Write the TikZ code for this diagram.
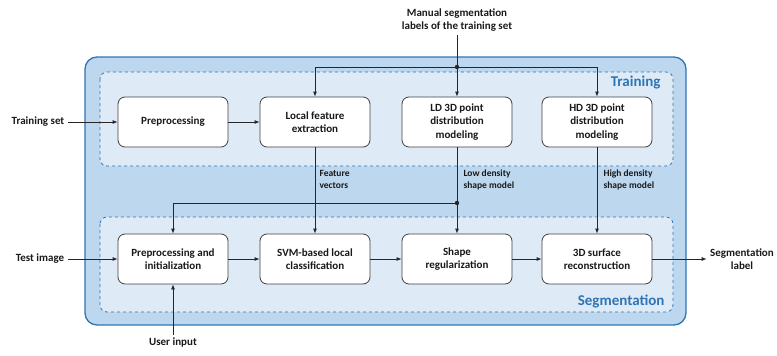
\documentclass[tikz,border=0pt]{standalone}
\usepackage{fontspec}
\setmainfont{Carlito}
\usetikzlibrary{arrows.meta}
\definecolor{outerblue}{HTML}{BDD7EE}
\definecolor{innerblue}{HTML}{DEEBF7}
\definecolor{lineblue}{HTML}{2E75B6}
\tikzset{
  block/.style={draw=black!75, fill=white, rounded corners=7pt, minimum width=110pt, minimum height=50pt, align=center, line width=0.8pt, text=black!90, font=\bfseries\fontsize{11}{13.3}\selectfont},
  side/.style={align=center, text=black!90, font=\bfseries\fontsize{11}{13.3}\selectfont},
  note/.style={align=left, anchor=west, text=black!90, font=\bfseries\fontsize{9.5}{11.5}\selectfont},
  flow/.style={-{Latex[length=5pt,width=4pt]}, line width=0.8pt, black!85},
  wire/.style={line width=0.8pt, black!85},
  stage/.style={draw=lineblue, dashed, fill=innerblue, line width=0.8pt, rounded corners=7pt},
  stagename/.style={text=lineblue, font=\bfseries\fontsize{15}{17}\selectfont},
}
\begin{document}
\begin{tikzpicture}[x=1pt,y=-1pt]
        \useasboundingbox (0,0) rectangle (777,356);
        % panels
        \draw[draw=lineblue, fill=outerblue, line width=1.3pt, rounded corners=12pt] (85,57) rectangle (686,325);
        \draw[stage] (100,72) rectangle (673,166);
        \draw[stage] (100,217) rectangle (673,312);
        \node[stagename, anchor=east] (trainname) at (664,83) {Training};
        \node[stagename, anchor=east] (segname) at (668,301) {Segmentation};

        % training row
        \node[block] (prep) at (173,122) {Preprocessing};
        \node[block] (lfe) at (315,122) {Local feature\\extraction};
        \node[block] (ldpdm) at (457,122) {LD 3D point\\distribution\\modeling};
        \node[block] (hdpdm) at (597,122) {HD 3D point\\distribution\\modeling};

        % segmentation row
        \node[block] (prepinit) at (173,259) {Preprocessing and\\initialization};
        \node[block] (svm) at (315,259) {SVM-based local\\classification};
        \node[block] (shapereg) at (457,259) {Shape\\regularization};
        \node[block] (surf) at (597,259) {3D surface\\reconstruction};

        % inputs and outputs
        \node[side] (trainset) at (38,122) {Training set};
        \node[side] (testimg) at (40,259) {Test image};
        \node[side] (seglabel) at (742,259) {Segmentation\\label};
        \node[side] (userin) at (173,343) {User input};
        \node[side] (manual) at (457,20) {Manual segmentation\\labels of the training set};

        \coordinate (split) at (457,67);
        \coordinate (ldsplit) at (457,203);

        \draw[flow] (trainset) -- (prep);
        \draw[flow] (prep) -- (lfe);
        \draw[wire] (manual) -- (split);
        \draw[flow] (split) -| (lfe);
        \draw[flow] (split) -- (ldpdm);
        \draw[flow] (split) -| (hdpdm);
        \fill[black!85] (split) circle (2.2pt);

        \draw[flow] (lfe) -- (svm);
        \draw[wire] (ldpdm) -- (ldsplit);
        \draw[flow] (ldsplit) -- (shapereg);
        \draw[flow] (ldsplit) -| (prepinit);
        \fill[black!85] (ldsplit) circle (2.2pt);
        \draw[flow] (hdpdm) -- (surf);

        \node[note] (featvec) at (316,179.5) {Feature\\vectors};
        \node[note] (ldmodel) at (460,180) {Low density\\shape model};
        \node[note] (hdmodel) at (600,180) {High density\\shape model};

        \draw[flow] (testimg) -- (prepinit);
        \draw[flow] (userin) -- (prepinit);
        \draw[flow] (prepinit) -- (svm);
        \draw[flow] (svm) -- (shapereg);
        \draw[flow] (shapereg) -- (surf);
        \draw[flow] (surf) -- (seglabel);
\end{tikzpicture}
\end{document}
